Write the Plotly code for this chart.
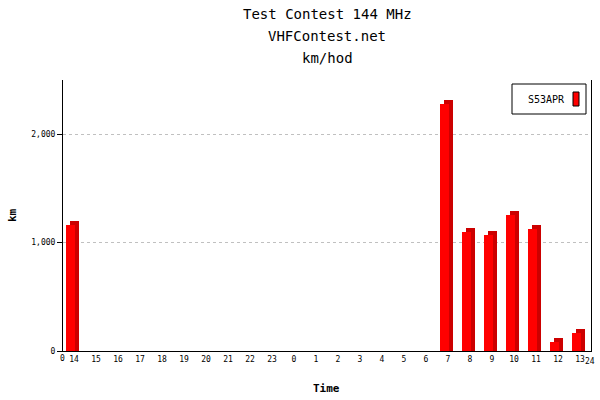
import plotly.graph_objects as go

hours = ["14", "15", "16", "17", "18", "19", "20", "21", "22", "23",
         "0", "1", "2", "3", "4", "5", "6", "7", "8", "9", "10", "11", "12", "13"]
km = [1160, 0, 0, 0, 0, 0, 0, 0, 0, 0,
      0, 0, 0, 0, 0, 0, 0, 2280, 1100, 1070, 1255, 1125, 85, 168]
series_name = "S53APR"
title_lines = ["Test Contest 144 MHz", "VHFContest.net", "km/hod"]

FONT = "DejaVu Sans Mono"
depth_y = 37  # 3D depth in data units (~4px)

idx = list(range(len(hours)))
front_x = [i + 0.34 for i in idx]
back_x = [i + 0.52 for i in idx]
back_y = [v + depth_y if v > 0 else 0 for v in km]

fig = go.Figure()
fig.add_trace(go.Bar(x=back_x, y=back_y, width=0.41, marker=dict(color="#cc0000", line=dict(width=0)),
                     showlegend=False, hoverinfo="skip"))
fig.add_trace(go.Bar(x=front_x, y=km, width=0.41, marker=dict(color="#ff0000", line=dict(width=0)),
                     name=series_name, showlegend=False))

fig.update_layout(
    width=600, height=400,
    margin=dict(l=63, r=9, t=80, b=49),
    plot_bgcolor="white", paper_bgcolor="white",
    barmode="overlay", bargap=0,
    font=dict(family=FONT, color="black"),
    xaxis=dict(range=[0, 24], tickvals=[i + 0.5 for i in idx], ticktext=hours,
               showline=True, linecolor="black", linewidth=1, ticks="",
               showgrid=False, zeroline=False, tickfont=dict(size=8, family=FONT)),
    yaxis=dict(range=[0, 2500], tickvals=[0, 1000, 2000], tickformat=",",
               showline=True, linecolor="black", linewidth=1, mirror=True,
               ticks="outside", ticklen=5, tickcolor="black",
               showgrid=True, gridcolor="#c0c0c0", griddash="dot", gridwidth=1,
               zeroline=False, tickfont=dict(size=8, family=FONT)),
)

def px_x(p):
    return (p - 63) / 528.0

def px_y(p):
    return (351 - p) / 271.0

ann = []
for k, t in enumerate(title_lines):
    ann.append(dict(text=t, x=0.5, y=px_y(14 + 22 * k), xref="paper", yref="paper", showarrow=False,
                    yanchor="middle", font=dict(size=14, family=FONT)))
ann.append(dict(text="<b>Time</b>", x=px_x(326), y=px_y(388), xref="paper", yref="paper",
                showarrow=False, yanchor="middle", font=dict(size=11, family=FONT)))
ann.append(dict(text="<b>km</b>", x=px_x(12), y=px_y(215), xref="paper", yref="paper", textangle=-90,
                showarrow=False, xanchor="center", yanchor="middle", font=dict(size=11, family=FONT)))
ann.append(dict(text="0", x=px_x(62), y=px_y(358), xref="paper", yref="paper", showarrow=False,
                xanchor="center", yanchor="middle", font=dict(size=8, family=FONT)))
ann.append(dict(text="24", x=px_x(590), y=px_y(362), xref="paper", yref="paper", showarrow=False,
                xanchor="center", yanchor="middle", font=dict(size=8, family=FONT)))
ann.append(dict(text=series_name, x=px_x(567), y=px_y(99), xref="paper", yref="paper",
                showarrow=False, xanchor="right", yanchor="middle", font=dict(size=10, family=FONT)))
fig.update_layout(annotations=ann)

fig.add_shape(type="rect", xref="paper", yref="paper", x0=px_x(512), x1=px_x(586), y0=px_y(114), y1=px_y(84),
              line=dict(color="black", width=1), fillcolor="white", layer="above")
fig.add_shape(type="rect", xref="paper", yref="paper", x0=px_x(573), x1=px_x(579), y0=px_y(106), y1=px_y(92),
              line=dict(color="black", width=1), fillcolor="#ff0000", layer="above")

fig.write_html("out.html", config={"displayModeBar": False},
               post_script="document.body.style.margin='0';document.body.style.padding='0';")
